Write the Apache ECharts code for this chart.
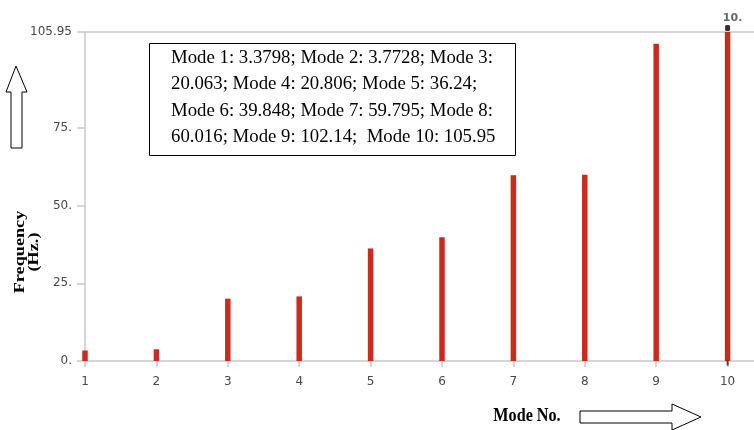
<!DOCTYPE html>
<html>
<head>
<meta charset="utf-8">
<script src="https://cdn.jsdelivr.net/npm/echarts@6/dist/echarts.min.js"></script>
<style>html,body{margin:0;padding:0;background:#fff;}#c{width:754px;height:430px;}</style>
</head>
<body>
<div id="c"></div>
<script>
const modes = [1, 2, 3, 4, 5, 6, 7, 8, 9, 10];
const frequencies = [3.3798, 3.7728, 20.063, 20.806, 36.24, 39.848, 59.795, 60.016, 102.14, 105.95];
const yTicks = [0, 25, 50, 75, 105.95];
const yTickLabels = ['0.', '25.', '50.', '75.', '105.95'];
const xTicks = [1, 2, 3, 4, 5, 6, 7, 8, 9, 10];
const boxLines = [
  'Mode 1: 3.3798; Mode 2: 3.7728; Mode 3:',
  '20.063; Mode 4: 20.806; Mode 5: 36.24;',
  'Mode 6: 39.848; Mode 7: 59.795; Mode 8:',
  '60.016; Mode 9: 102.14;  Mode 10: 105.95'
];
const highlightMode = 10;
const highlightLabel = '10.';

const chart = echarts.init(document.getElementById('c'), null, {renderer: 'canvas'});
const barData = modes.map((m, i) => [m, frequencies[i]]);
const hi = modes.indexOf(highlightMode);

const axisGrey = '#c8c8c8';
const labelGrey = '#484848';

chart.setOption({
  animation: false,
  backgroundColor: '#fff',
  grid: {left: 85, top: 32, right: 0, bottom: 69, containLabel: false},
  xAxis: [{
    type: 'value', min: 1, max: 10.37, interval: 1,
    axisLine: {show: true, lineStyle: {color: axisGrey, width: 1.5}},
    axisTick: {show: true, length: 6, customValues: xTicks, lineStyle: {color: axisGrey, width: 1.5}},
    axisLabel: {customValues: xTicks, margin: 15, color: labelGrey, fontFamily: 'DejaVu Sans', fontSize: 12},
    splitLine: {show: false}
  }, {
    type: 'value', position: 'top', min: 1, max: 10.37, interval: 1,
    axisLine: {show: true, lineStyle: {color: axisGrey, width: 1.5}},
    axisTick: {show: false}, axisLabel: {show: false}, splitLine: {show: false}
  }],
  yAxis: {
    type: 'value', min: 0, max: 105.95,
    axisLine: {show: true, lineStyle: {color: axisGrey, width: 1.5}},
    axisTick: {show: true, length: 8, customValues: yTicks, lineStyle: {color: axisGrey, width: 1.5}},
    axisLabel: {
      customValues: yTicks, margin: 13, color: labelGrey, fontFamily: 'DejaVu Sans', fontSize: 12,
      formatter: v => yTickLabels[yTicks.indexOf(v)] ?? ''
    },
    splitLine: {show: false}
  },
  series: [{
    type: 'bar', data: barData, barWidth: 5.5, clip: false,
    itemStyle: {color: '#cc2a1e'}, z: 3
  }, {
    type: 'scatter', data: [barData[hi]], symbol: 'roundRect', symbolSize: [5, 6],
    symbolOffset: [0, -4], itemStyle: {color: '#000'}, z: 4, clip: false,
    label: {show: true, position: 'top', distance: 2, formatter: highlightLabel,
      color: '#444', fontFamily: 'DejaVu Sans', fontSize: 11, fontWeight: 'bold', offset: [5, 1]}
  }, {
    type: 'scatter', data: [[highlightMode, 0]], symbol: 'rect', symbolSize: [2, 5],
    symbolOffset: [0, 2], itemStyle: {color: '#222'}, z: 4, clip: false
  }],
  graphic: [
    {type: 'rect', left: 149, top: 43, shape: {width: 366, height: 112},
     style: {fill: '#fff', stroke: '#000', lineWidth: 1}, z: 10},
    ...boxLines.map((t, i) => ({
      type: 'text', left: 171, top: 48.5 + i * 26.5, z: 11,
      style: {text: t, fill: '#000', font: '18.8px "Liberation Serif"'}
    })),
    {type: 'text', x: 20, y: 252, rotation: Math.PI / 2, scaleX: 1.3, z: 10,
     style: {text: 'Frequency', fill: '#000', font: 'bold 14px "Liberation Serif"', align: 'center', verticalAlign: 'middle'}},
    {type: 'text', x: 34, y: 252, rotation: Math.PI / 2, scaleX: 1.3, z: 10,
     style: {text: '(Hz.)', fill: '#000', font: 'bold 14px "Liberation Serif"', align: 'center', verticalAlign: 'middle'}},
    {type: 'text', x: 527, y: 416, scaleX: 0.85, z: 10,
     style: {text: 'Mode No.', fill: '#000', font: 'bold 19px "Liberation Serif"', align: 'center', verticalAlign: 'middle'}},
    {type: 'polygon', z: 10,
     shape: {points: [[580, 411], [672, 411], [672, 404], [701, 417], [672, 430], [672, 423], [580, 423]]},
     style: {fill: '#fff', stroke: '#000', lineWidth: 1}},
    {type: 'polygon', z: 10,
     shape: {points: [[11, 148], [11, 92], [6, 92], [16, 66], [27, 92], [22, 92], [22, 148]]},
     style: {fill: '#fff', stroke: '#000', lineWidth: 1}}
  ]
});
</script>
</body>
</html>
